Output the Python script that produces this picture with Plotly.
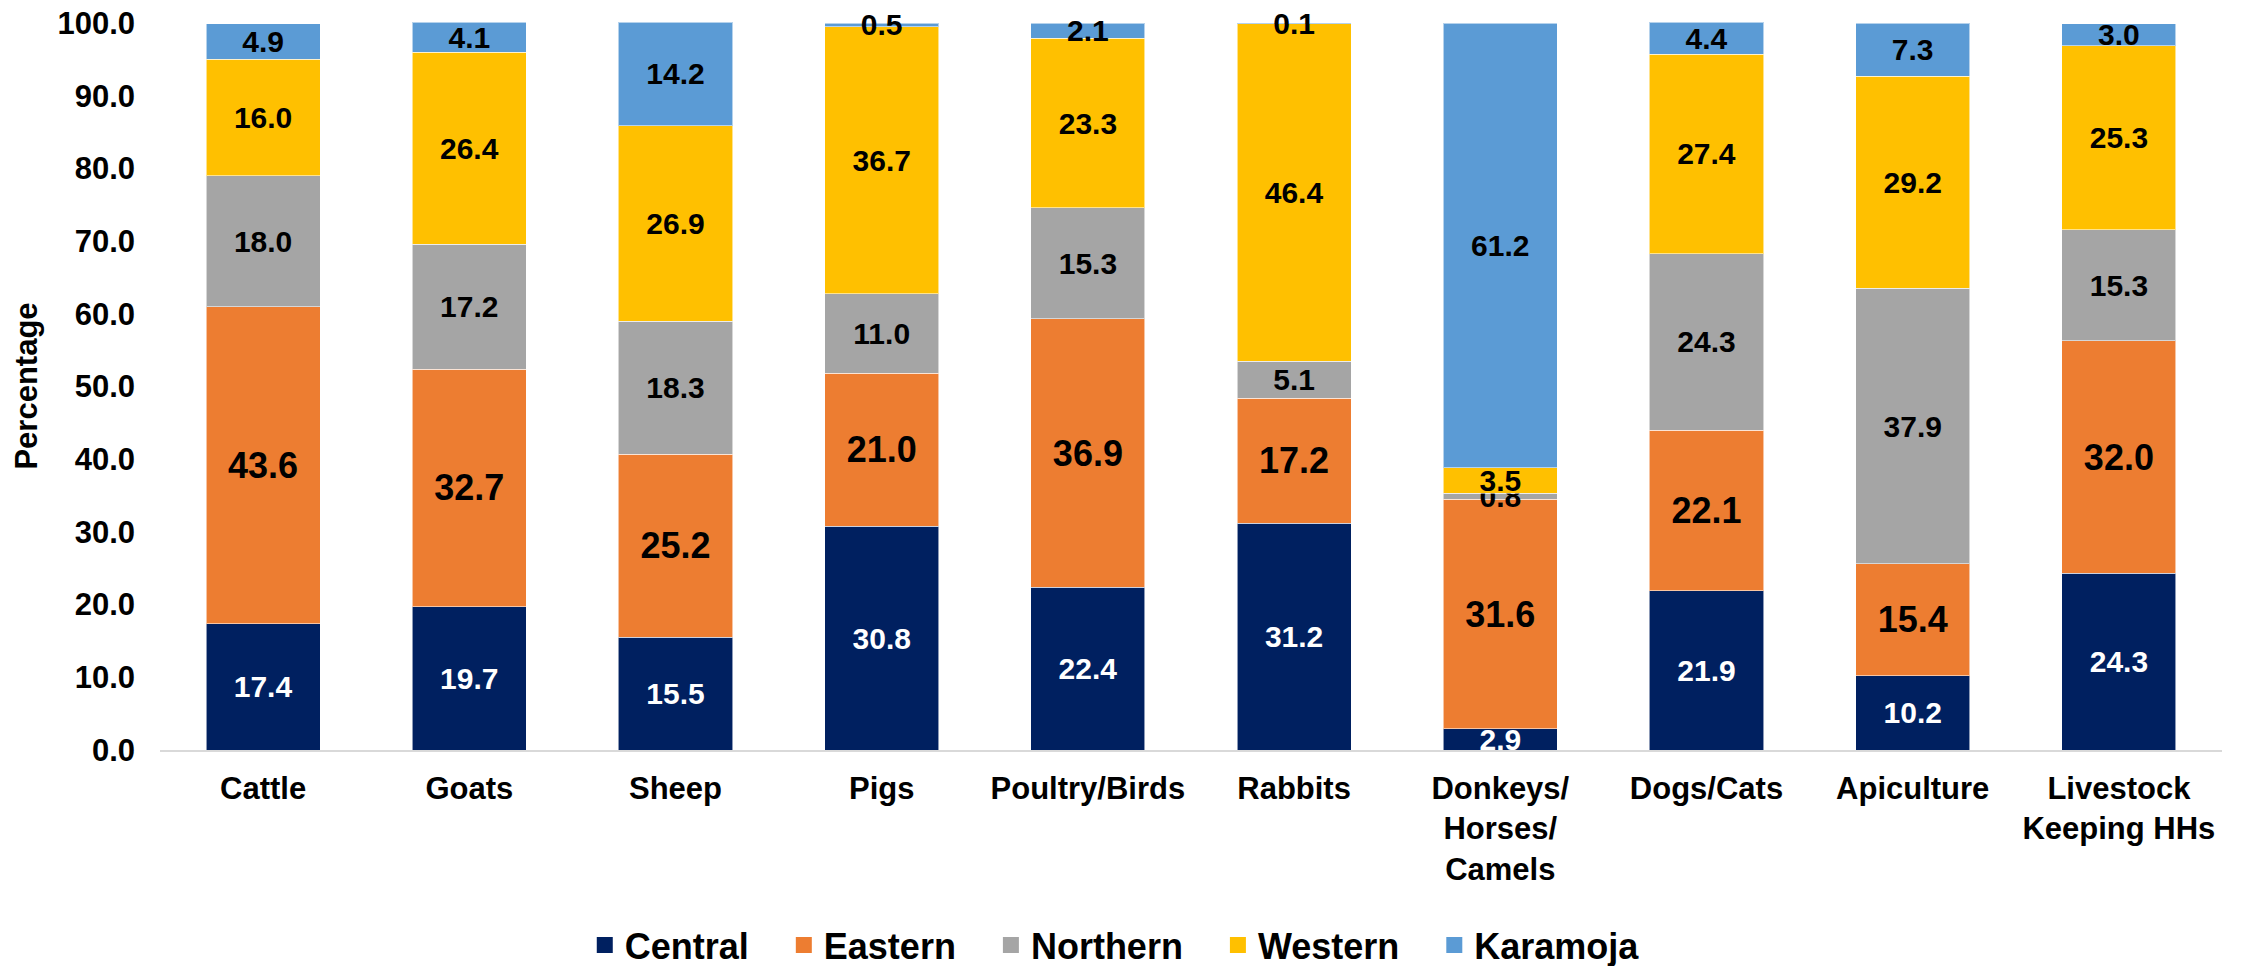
import plotly.graph_objects as go

# Livestock categories (x axis)
categories = [
    "Cattle", "Goats", "Sheep", "Pigs", "Poultry/Birds", "Rabbits",
    "Donkeys/<br>Horses/<br>Camels", "Dogs/Cats", "Apiculture",
    "Livestock<br>Keeping HHs",
]

# Regional shares (%) per category
central  = [17.4, 19.7, 15.5, 30.8, 22.4, 31.2, 2.9, 21.9, 10.2, 24.3]
eastern  = [43.6, 32.7, 25.2, 21.0, 36.9, 17.2, 31.6, 22.1, 15.4, 32.0]
northern = [18.0, 17.2, 18.3, 11.0, 15.3, 5.1, 0.8, 24.3, 37.9, 15.3]
western  = [16.0, 26.4, 26.9, 36.7, 23.3, 46.4, 3.5, 27.4, 29.2, 25.3]
karamoja = [4.9, 4.1, 14.2, 0.5, 2.1, 0.1, 61.2, 4.4, 7.3, 3.0]

region_names = ["Central", "Eastern", "Northern", "Western", "Karamoja"]
y_ticks = [0, 10, 20, 30, 40, 50, 60, 70, 80, 90, 100]

series = [central, eastern, northern, western, karamoja]
colors = ["#002060", "#ED7D31", "#A5A5A5", "#FFC000", "#5B9BD5"]
text_colors = ["white", "black", "black", "black", "black"]
text_sizes = [30, 36, 30, 30, 30]

FONT = "Liberation Sans, Arial, sans-serif"

fig = go.Figure()

for name, vals, col, tcol, tsize in zip(region_names, series, colors, text_colors, text_sizes):
    fig.add_trace(go.Bar(
        x=categories,
        y=vals,
        name=name,
        marker=dict(color=col, line=dict(color="rgba(255,255,255,0.55)", width=1)),
        text=[f"{v:.1f}" for v in vals],
        textposition="inside",
        insidetextanchor="middle",
        constraintext="none",
        textangle=0,
        textfont=dict(family=FONT, size=tsize, color=tcol, weight="bold"),
        cliponaxis=False,
        showlegend=False,
    ))

# legend entries with larger square swatches
for name, col in zip(region_names, colors):
    fig.add_trace(go.Scatter(
        x=[None], y=[None], mode="markers",
        marker=dict(symbol="square", size=16, color=col),
        name=name + "\u00a0\u00a0\u00a0",
        showlegend=True,
    ))

fig.update_layout(
    barmode="stack",
    bargap=0.447,
    width=2241,
    height=966,
    margin=dict(l=160, r=19, t=22, b=216, autoexpand=False),
    paper_bgcolor="white",
    plot_bgcolor="white",
    font=dict(family=FONT, color="black"),
    legend=dict(
        orientation="h",
        traceorder="normal",
        x=0.206, xanchor="left",
        y=-0.268, yanchor="middle",
        font=dict(family=FONT, size=36, color="black", weight="bold"),
        itemsizing="trace",
        bgcolor="rgba(0,0,0,0)",
    ),
    xaxis=dict(
        showgrid=False,
        showline=True,
        linecolor="#D9D9D9",
        linewidth=1.5,
        ticks="",
        tickfont=dict(family=FONT, size=31, color="black", weight="bold"),
        ticklabelstandoff=10,
        automargin=False,
    ),
    yaxis=dict(
        range=[0, 100.15],
        tickvals=y_ticks,
        tickformat=".1f",
        showgrid=False,
        showline=False,
        zeroline=False,
        ticks="",
        tickfont=dict(family=FONT, size=31, color="black", weight="bold"),
        ticklabelstandoff=24,
        title=dict(text="Percentage", font=dict(family=FONT, size=31, color="black", weight="bold"),
                   standoff=10),
        automargin=False,
    ),
)

fig.write_html("out.html")
